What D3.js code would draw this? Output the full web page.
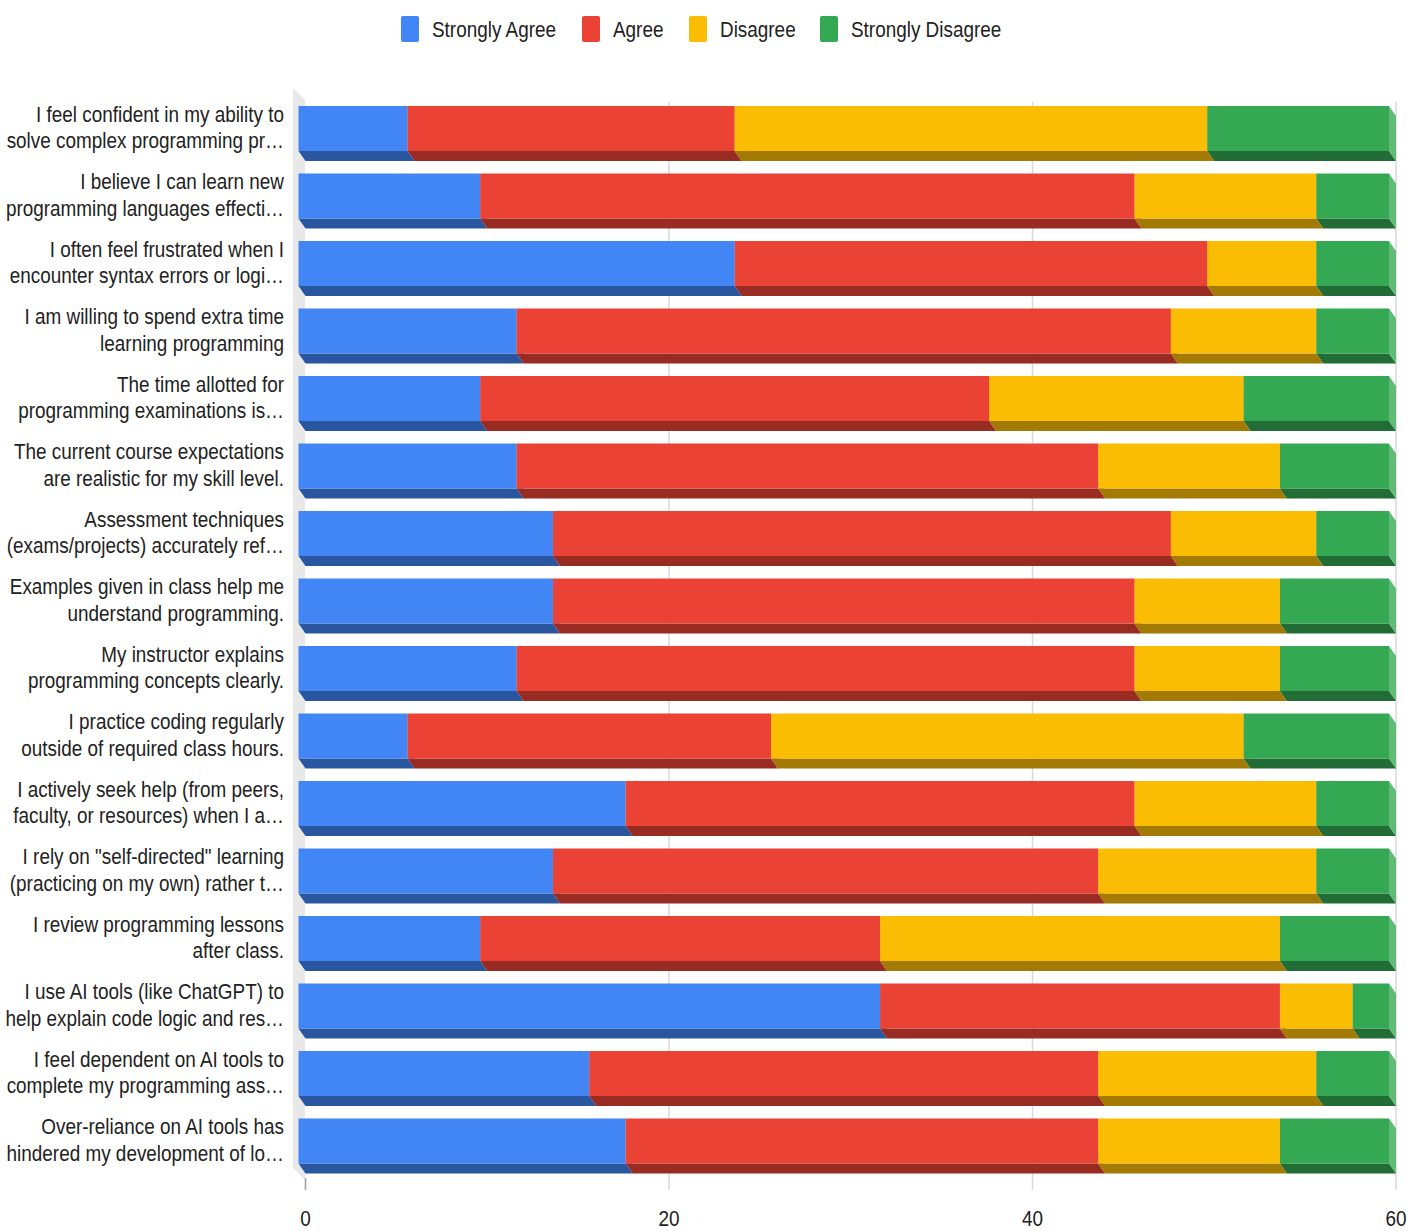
<!DOCTYPE html>
<html>
<head>
<meta charset="utf-8">
<script src="https://cdn.jsdelivr.net/npm/d3@7"></script>
<style>
  html, body { margin: 0; padding: 0; background: #fff; }
  svg text { font-family: "Liberation Sans", Arial, sans-serif; fill: #222; }
</style>
</head>
<body>
<div id="chart"></div>
<script>
// Survey statements (two wrapped lines each, as shown on the axis)
const categories = [
  "I feel confident in my ability to\nsolve complex programming pr…",
  "I believe I can learn new\nprogramming languages effecti…",
  "I often feel frustrated when I\nencounter syntax errors or logi…",
  "I am willing to spend extra time\nlearning programming",
  "The time allotted for\nprogramming examinations is…",
  "The current course expectations\nare realistic for my skill level.",
  "Assessment techniques\n(exams/projects) accurately ref…",
  "Examples given in class help me\nunderstand programming.",
  "My instructor explains\nprogramming concepts clearly.",
  "I practice coding regularly\noutside of required class hours.",
  "I actively seek help (from peers,\nfaculty, or resources) when I a…",
  "I rely on \"self-directed\" learning\n(practicing on my own) rather t…",
  "I review programming lessons\nafter class.",
  "I use AI tools (like ChatGPT) to\nhelp explain code logic and res…",
  "I feel dependent on AI tools to\ncomplete my programming ass…",
  "Over-reliance on AI tools has\nhindered my development of lo…"
];

const seriesNames = ["Strongly Agree", "Agree", "Disagree", "Strongly Disagree"];
const stronglyAgree    = [6, 10, 24, 12, 10, 12, 14, 14, 12, 6, 18, 14, 10, 32, 16, 18];
const agree            = [18, 36, 26, 36, 28, 32, 34, 32, 34, 20, 28, 30, 22, 22, 28, 26];
const disagree         = [26, 10, 6, 8, 14, 10, 8, 8, 8, 26, 10, 12, 22, 4, 12, 10];
const stronglyDisagree = [10, 4, 4, 4, 8, 6, 4, 6, 6, 8, 4, 4, 6, 2, 4, 6];
const xTicks = [0, 20, 40, 60];

const colors = {
  "Strongly Agree":    { front: "#4285f4", bottom: "#2a56a0", side: "#72a4f6" },
  "Agree":             { front: "#ea4335", bottom: "#982b22", side: "#f07a70" },
  "Disagree":          { front: "#fbbc04", bottom: "#a37a03", side: "#fcd05a" },
  "Strongly Disagree": { front: "#34a853", bottom: "#226d36", side: "#5fbb76" }
};

const width = 1421;
const height = 1231;
const depth = { x: 7, y: 10 };     // 3D extrusion offset
const textScale = 0.86;           // narrow glyphs

const rows = categories.map((c, i) => ({
  category: c,
  "Strongly Agree": stronglyAgree[i],
  "Agree": agree[i],
  "Disagree": disagree[i],
  "Strongly Disagree": stronglyDisagree[i]
}));

const stacked = d3.stack().keys(seriesNames)(rows);

const svg = d3.select("#chart")
  .append("svg")
  .attr("width", width)
  .attr("height", height);

// front plane of the bars
const xScale = d3.scaleLinear().domain([0, 60]).range([298.5, 1389]);
const step = 67.5;
const yScale = d3.scaleBand()
  .domain(categories)
  .range([106, 106 + step * (categories.length - 1 / 3)])
  .paddingInner(1 / 3)
  .paddingOuter(0);

const plotTop = 88;
const plotBottom = 1170;

// left wall
svg.append("polygon")
  .attr("points", [
    [293, plotTop], [305, plotTop + 12], [305, plotBottom + 10], [293, plotBottom - 2]
  ].join(" "))
  .attr("fill", "#e8e8e8");

// gridlines on the back plane
const grid = svg.append("g").attr("class", "gridlines");
grid.selectAll("line")
  .data(xTicks)
  .join("line")
  .attr("x1", d => xScale(d) + depth.x)
  .attr("x2", d => xScale(d) + depth.x)
  .attr("y1", d => d === 0 ? plotBottom + 8 : plotTop + 14)
  .attr("y2", 1190)
  .attr("stroke", d => d === 0 ? "#9e9e9e" : "#d9d9d9")
  .attr("stroke-width", 1.5);

// bars
const barGroups = svg.append("g").attr("class", "bars")
  .selectAll("g")
  .data(stacked)
  .join("g");

function poly(points) { return points.map(p => p.join(",")).join(" "); }

barGroups.each(function (series) {
  const c = colors[series.key];
  const g = d3.select(this);
  const segs = g.selectAll("g.seg")
    .data(series)
    .join("g")
    .attr("class", "seg");

  // bottom face
  segs.append("polygon")
    .attr("points", d => {
      const x0 = xScale(d[0]), x1 = xScale(d[1]);
      const yb = yScale(d.data.category) + yScale.bandwidth();
      return poly([[x0, yb], [x1, yb], [x1 + depth.x, yb + depth.y], [x0 + depth.x, yb + depth.y]]);
    })
    .attr("fill", c.bottom);

  // right side face
  segs.append("polygon")
    .attr("points", d => {
      const x1 = xScale(d[1]);
      const yt = yScale(d.data.category);
      const yb = yt + yScale.bandwidth();
      return poly([[x1, yt], [x1 + depth.x, yt + depth.y], [x1 + depth.x, yb + depth.y], [x1, yb]]);
    })
    .attr("fill", c.side);

  // front face
  segs.append("rect")
    .attr("x", d => xScale(d[0]))
    .attr("y", d => yScale(d.data.category))
    .attr("width", d => xScale(d[1]) - xScale(d[0]))
    .attr("height", yScale.bandwidth())
    .attr("fill", c.front);
});

// segments are drawn column by column so later ones cover earlier side faces
// re-order: draw series in stack order per row
const segNodes = [];
stacked.forEach((s, si) => s.forEach((d, ri) => segNodes.push({ si, ri })));
svg.selectAll("g.bars > g").each(function (s, si) {
  d3.select(this).selectAll("g.seg").each(function (d, ri) {
    this.setAttribute("data-order", ri * 10 + si);
  });
});
const barsRoot = svg.select("g.bars").node();
const allSegs = Array.from(barsRoot.querySelectorAll("g.seg"))
  .sort((a, b) => +a.dataset.order - +b.dataset.order);
allSegs.forEach(n => barsRoot.appendChild(n));

// category labels
const labels = svg.append("g").attr("class", "y-labels");
categories.forEach(cat => {
  const cy = yScale(cat) + yScale.bandwidth() / 2;
  const lines = cat.split("\n");
  const t = labels.append("text")
    .attr("transform", `translate(284, ${cy - 7}) scale(${textScale}, 1)`)
    .attr("text-anchor", "end")
    .style("font-size", "22px");
  lines.forEach((ln, i) => {
    t.append("tspan").attr("x", 0).attr("y", i * 27).text(ln);
  });
});

// x axis labels
svg.append("g").attr("class", "x-labels")
  .selectAll("text")
  .data(xTicks)
  .join("text")
  .attr("transform", d => `translate(${xScale(d) + depth.x}, 1226) scale(${textScale}, 1)`)
  .attr("text-anchor", "middle")
  .style("font-size", "22px")
  .text(d => d);

// legend
const legendItems = [
  { name: "Strongly Agree", x: 401 },
  { name: "Agree", x: 582 },
  { name: "Disagree", x: 689 },
  { name: "Strongly Disagree", x: 820 }
];
const legend = svg.append("g").attr("class", "legend");
legendItems.forEach(item => {
  legend.append("rect")
    .attr("x", item.x)
    .attr("y", 16)
    .attr("width", 18)
    .attr("height", 26)
    .attr("rx", 2)
    .attr("fill", colors[item.name].front);
  legend.append("text")
    .attr("transform", `translate(${item.x + 31}, 37) scale(${textScale}, 1)`)
    .style("font-size", "22px")
    .text(item.name);
});
</script>
</body>
</html>
